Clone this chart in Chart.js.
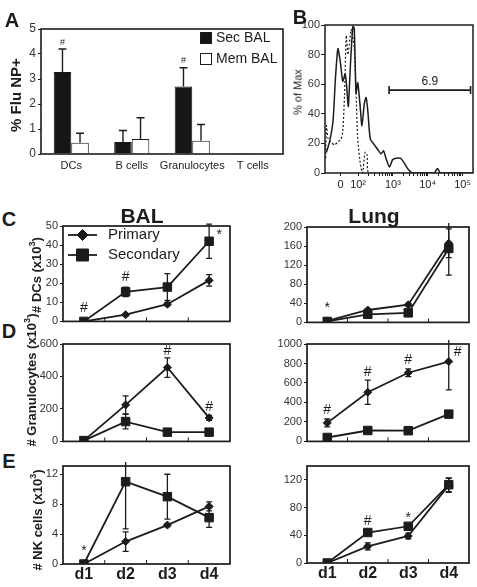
<!DOCTYPE html>
<html>
<head>
<meta charset="utf-8">
<script src="https://cdn.jsdelivr.net/npm/chart.js@4.4.1/dist/chart.umd.min.js"></script>
<style>
body{margin:0;background:#fff;font-family:"Liberation Sans",Arial,sans-serif;color:#1c1c1c}
#fig{position:relative;width:477px;height:587px;overflow:hidden;background:#fff}
#fig canvas{position:absolute}
.lbl{position:absolute;transform:translate(-50%,-50%);white-space:nowrap;line-height:1;z-index:2}
.rot{transform:translate(-50%,-50%) rotate(-90deg)}
.letter{font-size:20px;font-weight:bold}
.ttl{font-size:21px;font-weight:bold}
.ylab{font-size:13px;font-weight:bold}
sup{font-size:0.7em;line-height:0}
</style>
</head>
<body>
<div id="fig">
  <div class="lbl letter" style="left:12px;top:20px">A</div>
  <div class="lbl letter" style="left:300px;top:17px">B</div>
  <div class="lbl letter" style="left:9px;top:219px">C</div>
  <div class="lbl letter" style="left:9px;top:331px">D</div>
  <div class="lbl letter" style="left:9px;top:461px">E</div>
  <div class="lbl ttl" style="left:142px;top:215px">BAL</div>
  <div class="lbl ttl" style="left:374px;top:215px">Lung</div>
  <div class="lbl rot" style="left:15px;top:95px;font-size:15px;font-weight:bold">% Flu NP+</div>
  <div class="lbl rot" style="left:298px;top:92px;font-size:11px">% of Max</div>
  <div class="lbl rot ylab" style="left:36px;top:275px"># DCs (x10<sup>3</sup>)</div>
  <div class="lbl rot ylab" style="left:31px;top:380px"># Granulocytes (x10<sup>3</sup>)</div>
  <div class="lbl rot ylab" style="left:37px;top:520px"># NK cells (x10<sup>3</sup>)</div>
</div>
<script>
/* ---------- data ---------- */
// A: % Flu NP+ by cell type
const cellTypes = ['DCs', 'B cells', 'Granulocytes', 'T cells'];
const secBAL    = [3.28, 0.48, 2.70, 0.04];
const secBALErr = [0.92, 0.46, 0.75, 0];
const memBAL    = [0.45, 0.60, 0.53, 0.02];
const memBALErr = [0.38, 0.85, 0.65, 0];

// B: histogram (x in decades, biexponential axis)
const solidX = [1.09,1.18,1.28,1.35,1.42,1.49,1.56,1.63,1.67,1.72,1.78,1.85,1.89,1.94,1.99,2.06,2.11,2.18,2.23,2.28,2.35,2.47,2.56,2.66,2.73,2.80,2.90,2.99,3.09,3.21,3.32,3.42,3.56,4.18,4.28,4.37,5.30];
const solidY = [14,21,35,64,84,75,62,67,59,45,73,99,98,54,61,45,32,47,51,42,23,19,16,13,15,10,4,9,10,10,7,3,0,0,3,0,0];
const dashX  = [1.07,1.09,1.14,1.21,1.32,1.42,1.51,1.56,1.61,1.66,1.71,1.75,1.80,1.85,1.89,1.94,1.99,2.07,2.13,2.20,2.26,2.32,5.30];
const dashY  = [10,32,23,21,19,21,23,28,52,93,80,87,97,92,85,56,23,5,0,14,12,0,0];
const histTicks = [1.5, 2, 3, 4, 5];
const histTickLabels = ['0', '10²', '10³', '10⁴', '10⁵'];
const gateFrom = 2.89, gateTo = 5.23, gateLevel = 56, gateText = '6.9';

// C-E: time course
const days = ['d1', 'd2', 'd3', 'd4'];
const dcBalPrim = [0, 3.5, 9, 21.5],     dcBalPrimErr = [0, 0.6, 0.8, 3];
const dcBalSec  = [0, 15.5, 18, 42],     dcBalSecErr  = [0, 2.5, 7, 9];
const dcLungPrim = [3, 26, 37, 166],     dcLungPrimErr = [1, 3, 3, 30];
const dcLungSec  = [2, 17, 20, 155],     dcLungSecErr  = [1, 2, 3, 56];
const grBalPrim = [5, 225, 455, 145],    grBalPrimErr = [3, 55, 60, 15];
const grBalSec  = [5, 122, 57, 57],      grBalSecErr  = [2, 45, 5, 5];
const grLungPrim = [190, 505, 705, 820], grLungPrimErr = [40, 125, 40, 290];
const grLungSec  = [40, 112, 110, 280],  grLungSecErr  = [5, 10, 10, 30];
const nkBalPrim = [0, 3, 5.2, 7.7],      nkBalPrimErr = [0, 1.3, 0.2, 0.6];
const nkBalSec  = [0, 11, 9, 6.2],       nkBalSecErr  = [0, 6.3, 3, 1.3];
const nkLungPrim = [0, 24, 39, 112],     nkLungPrimErr = [0, 5, 4, 10];
const nkLungSec  = [0, 44, 53, 113],     nkLungSecErr  = [0, 2, 3, 10];

/* ---------- setup ---------- */
const FONT = '"Liberation Sans", Arial, sans-serif';
const INK = '#1c1c1c';
Chart.defaults.font.family = FONT;
Chart.defaults.color = '#333';
Chart.defaults.animation = false;

// box around the plot area, plus inward ticks on the day axis
const framePlugin = {
  id:'frame',
  afterDraw(chart, args, o){
    if(!o.on) return;
    const a = chart.chartArea, ctx = chart.ctx;
    ctx.save();
    ctx.strokeStyle = INK; ctx.lineWidth = o.width || 1.7;
    ctx.strokeRect(a.left, a.top, a.right-a.left, a.bottom-a.top);
    if(o.xticks){
      const x = chart.scales.x, n = chart.data.labels.length;
      ctx.lineWidth = 1;
      ctx.beginPath();
      for(let i=0;i<n-1;i++){
        const px = (x.getPixelForValue(i)+x.getPixelForValue(i+1))/2;
        ctx.moveTo(px, a.bottom); ctx.lineTo(px, a.bottom-4);
      }
      ctx.stroke();
    }
    ctx.restore();
  }
};

const errPlugin = {
  id:'errbars',
  afterDatasetsDraw(chart, args, o){
    const ctx = chart.ctx, y = chart.scales.y, top = chart.chartArea.top;
    chart.data.datasets.forEach((ds, di)=>{
      if(!ds.err) return;
      const meta = chart.getDatasetMeta(di);
      const cap = o.cap || 3;
      ctx.save(); ctx.strokeStyle = INK; ctx.lineWidth = o.width || 1.3;
      meta.data.forEach((el, i)=>{
        const e = ds.err[i]; if(!e) return;
        const v = ds.data[i];
        let hi = y.getPixelForValue(v+e);
        const lo = o.upOnly ? y.getPixelForValue(v) : y.getPixelForValue(v-e);
        const clipped = hi < top-4;
        if(clipped) hi = top-4;
        ctx.beginPath();
        ctx.moveTo(el.x, lo); ctx.lineTo(el.x, hi);
        if(!clipped){ ctx.moveTo(el.x-cap, hi); ctx.lineTo(el.x+cap, hi); }
        if(!o.upOnly){ ctx.moveTo(el.x-cap, lo); ctx.lineTo(el.x+cap, lo); }
        ctx.stroke();
      });
      ctx.restore();
    });
  }
};

// significance marks (# / *)
const notePlugin = {
  id:'notes',
  afterDatasetsDraw(chart, args, o){
    if(!o.items) return;
    const ctx = chart.ctx, y = chart.scales.y;
    ctx.save(); ctx.fillStyle = INK; ctx.font = o.font;
    ctx.textAlign = 'center'; ctx.textBaseline = 'middle';
    o.items.forEach(n=>{
      const el = chart.getDatasetMeta(n.ds||0).data[n.i];
      const dy = n.t==='*' ? 3 : 0;
      ctx.fillText(n.t, el.x+(n.dx||0), y.getPixelForValue(n.v)+dy);
    });
    ctx.restore();
  }
};

// in-plot legend
const keyPlugin = {
  id:'key',
  afterDraw(chart, args, o){
    if(!o.on) return;
    const ctx = chart.ctx, a = chart.chartArea;
    ctx.save(); ctx.font = o.font; ctx.textBaseline = 'middle';
    chart.data.datasets.forEach((ds, i)=>{
      const yy = a.top + o.y + i*o.gap, xx = a.left + o.x;
      ctx.strokeStyle = INK; ctx.fillStyle = ds.backgroundColor; ctx.lineWidth = 1;
      if(o.kind==='box'){
        ctx.fillRect(xx, yy-o.size/2, o.size, o.size);
        ctx.strokeRect(xx+0.5, yy-o.size/2+0.5, o.size-1, o.size-1);
      }else{
        ctx.lineWidth = 1.8;
        ctx.beginPath(); ctx.moveTo(xx, yy); ctx.lineTo(xx+o.len, yy); ctx.stroke();
        ctx.fillStyle = INK; ctx.lineWidth = 1;
        Chart.helpers.drawPoint(ctx, {pointStyle:ds.pointStyle, radius:ds.keyRadius, rotation:0, borderWidth:1}, xx+o.len/2, yy);
      }
      ctx.fillStyle = INK;
      ctx.fillText(ds.label, xx+o.tx, yy);
    });
    ctx.restore();
  }
};

// gate bracket on the histogram
const gatePlugin = {
  id:'gate',
  afterDraw(chart, args, o){
    if(!o.on) return;
    const ctx = chart.ctx, x = chart.scales.x, y = chart.scales.y;
    const x1 = x.getPixelForValue(gateFrom), x2 = x.getPixelForValue(gateTo), py = y.getPixelForValue(gateLevel);
    ctx.save(); ctx.strokeStyle = INK; ctx.lineWidth = 1.6;
    ctx.beginPath();
    ctx.moveTo(x1, py); ctx.lineTo(x2, py);
    ctx.moveTo(x1, py-4); ctx.lineTo(x1, py+4);
    ctx.moveTo(x2, py-4); ctx.lineTo(x2, py+4);
    ctx.stroke();
    ctx.fillStyle = INK; ctx.font = '12px '+FONT; ctx.textAlign = 'center'; ctx.textBaseline = 'bottom';
    ctx.fillText(gateText, (x1+x2)/2, py-2);
    ctx.restore();
  }
};
Chart.register(framePlugin, errPlugin, notePlugin, keyPlugin, gatePlugin);

function mount(id, box, m){
  const c = document.createElement('canvas');
  c.id = id;
  c.width = box.r-box.l+m.l+m.r;
  c.height = box.b-box.t+m.t+m.b;
  c.style.left = (box.l-m.l)+'px';
  c.style.top = (box.t-m.t)+'px';
  document.getElementById('fig').appendChild(c);
  return c;
}

// tick list 0, step, 2*step ... up to max
function stepTicks(max, step){
  const out = [];
  for(let v=0; v<=max+1e-9; v+=step) out.push({value:Math.round(v*1000)/1000});
  return out;
}

/* ---------- A ---------- */
(function(){
  const m = {l:41, t:14, r:4, b:20};
  const c = mount('chartA', {l:41, t:29, r:283, b:154}, m);
  new Chart(c, {
    type:'bar',
    data:{
      labels: cellTypes,
      datasets:[
        {label:'Sec BAL', data:secBAL, err:secBALErr, backgroundColor:'#161616', borderColor:'#161616', borderWidth:1},
        {label:'Mem BAL', data:memBAL, err:memBALErr, backgroundColor:'#ffffff', borderColor:INK, borderWidth:1}
      ]
    },
    options:{
      responsive:false,
      layout:{padding:{top:m.t, right:m.r, left:0, bottom:0}},
      datasets:{bar:{barPercentage:1, categoryPercentage:0.58}},
      plugins:{
        legend:{display:false}, tooltip:{enabled:false},
        frame:{on:true, width:1.6},
        errbars:{upOnly:true, cap:4, width:1.4},
        notes:{items:[{ds:0,i:0,v:4.45,t:'#'},{ds:0,i:2,v:3.75,t:'#'}], font:'9px '+FONT},
        key:{on:true, kind:'box', x:159, y:9, gap:21, size:12, tx:16, font:'14px '+FONT}
      },
      scales:{
        x:{grid:{display:false, drawTicks:false}, border:{display:false},
           ticks:{font:{size:11}, padding:5, color:'#222', maxRotation:0, minRotation:0, autoSkip:false},
           afterFit:s=>{s.height=m.b}},
        y:{min:0, max:5, afterBuildTicks:s=>{ s.ticks = stepTicks(5, 1); },
           ticks:{font:{size:12}, padding:2, color:'#333', callback:v=>String(v)},
           grid:{drawOnChartArea:false, tickLength:3, color:INK}, border:{display:false}, afterFit:s=>{s.width=m.l}}
      }
    }
  });
})();

/* ---------- B ---------- */
(function(){
  const m = {l:30, t:8, r:3, b:24};
  const c = mount('chartB', {l:325, t:25, r:473, b:173}, m);
  const minor = [];
  [2,3,4].forEach(d=>{ for(let k=2;k<10;k++) minor.push(d+Math.log10(k)); });
  new Chart(c, {
    type:'line',
    data:{
      datasets:[
        {label:'Secondary', data:solidX.map((x,i)=>({x, y:solidY[i]})), borderColor:INK, borderWidth:1.5, pointRadius:0, tension:0.2},
        {label:'Primary', data:dashX.map((x,i)=>({x, y:dashY[i]})), borderColor:INK, borderWidth:1.2, borderDash:[2,2], pointRadius:0, tension:0.2}
      ]
    },
    options:{
      responsive:false,
      layout:{padding:{top:m.t, right:m.r, left:0, bottom:0}},
      plugins:{legend:{display:false}, tooltip:{enabled:false}, frame:{on:true, width:1.5}, gate:{on:true}},
      scales:{
        x:{type:'linear', min:1.05, max:5.3,
           afterBuildTicks:s=>{ s.ticks = histTicks.concat(minor).sort((a,b)=>a-b).map(v=>({value:v})); },
           ticks:{autoSkip:false, maxRotation:0, font:{size:11}, padding:2, color:'#222',
                  callback:v=>{ const k = histTicks.indexOf(v); return k<0 ? '' : histTickLabels[k]; }},
           grid:{drawOnChartArea:false, tickLength:3, color:INK}, border:{display:false}, afterFit:s=>{s.height=m.b}},
        y:{min:0, max:100, afterBuildTicks:s=>{ s.ticks = stepTicks(100, 20); },
           ticks:{font:{size:11}, padding:1, color:'#333'},
           grid:{drawOnChartArea:false, tickLength:4, color:INK}, border:{display:false}, afterFit:s=>{s.width=m.l}}
      }
    }
  });
})();

/* ---------- C-E ---------- */
function dayChart(s){
  const c = mount(s.id, s.box, s.m);
  return new Chart(c, {
    type:'line',
    data:{
      labels: days,
      datasets:[
        {label:'Primary', data:s.prim, err:s.primErr, pointStyle:'rectRot', pointRadius:4, keyRadius:5.5,
         borderColor:INK, backgroundColor:INK, borderWidth:1.8, pointBorderWidth:1},
        {label:'Secondary', data:s.sec, err:s.secErr, pointStyle:'rect', pointRadius:6, keyRadius:8.5,
         borderColor:INK, backgroundColor:INK, borderWidth:1.8, pointBorderWidth:1}
      ]
    },
    options:{
      responsive:false,
      layout:{padding:{top:s.m.t, right:s.m.r, left:0, bottom:0}},
      plugins:{
        legend:{display:false}, tooltip:{enabled:false},
        frame:{on:true, width:1.7, xticks:true},
        errbars:{cap:3, width:1.3},
        notes:{items:s.notes, font:'14px '+FONT},
        key: s.key || {}
      },
      scales:{
        x:{offset:true, grid:{display:false, drawTicks:false}, border:{display:false},
           ticks:{display:!!s.showDays, font:{size:16, weight:'bold'}, color:'#1c1c1c', padding:1, maxRotation:0, autoSkip:false},
           afterFit:sc=>{sc.height=s.m.b}},
        y:{min:0, max:s.max,
           afterBuildTicks:sc=>{ sc.ticks = stepTicks(s.max, s.step); },
           ticks:{font:{size:11}, padding:2, color:'#333', autoSkip:false, callback:v=>String(v)},
           grid:{drawOnChartArea:false, tickLength:3, color:INK}, border:{display:false},
           afterFit:sc=>{sc.width=s.m.l}}
      }
    }
  });
}

const mL = {l:45, t:9, r:6, b:6}, mR = {l:45, t:9, r:3, b:6};
dayChart({id:'cBal', box:{l:63, t:226, r:231, b:324}, m:mL, max:50, step:10,
  prim:dcBalPrim, primErr:dcBalPrimErr, sec:dcBalSec, secErr:dcBalSecErr,
  notes:[{i:0,v:7,t:'#'},{i:1,v:23,t:'#'},{i:3,v:47,t:'*',dx:10}],
  key:{on:true, kind:'line', x:5, y:9, gap:20, len:29, tx:40, font:'15px '+FONT}});
dayChart({id:'cLung', box:{l:307, t:227, r:473, b:325}, m:mR, max:200, step:40,
  prim:dcLungPrim, primErr:dcLungPrimErr, sec:dcLungSec, secErr:dcLungSecErr,
  notes:[{i:0,v:36,t:'*'}]});
dayChart({id:'dBal', box:{l:63, t:344, r:231, b:444}, m:mL, max:600, step:200,
  prim:grBalPrim, primErr:grBalPrimErr, sec:grBalSec, secErr:grBalSecErr,
  notes:[{i:2,v:553,t:'#'},{i:3,v:212,t:'#'}]});
dayChart({id:'dLung', box:{l:307, t:344, r:473, b:444}, m:mR, max:1000, step:200,
  prim:grLungPrim, primErr:grLungPrimErr, sec:grLungSec, secErr:grLungSecErr,
  notes:[{i:0,v:319,t:'#'},{i:1,v:711,t:'#'},{i:2,v:830,t:'#'},{i:3,v:915,t:'#',dx:9}]});
dayChart({id:'eBal', box:{l:63, t:466, r:231, b:564}, m:{l:45, t:9, r:6, b:23}, max:13.1, step:4, showDays:true,
  prim:nkBalPrim, primErr:nkBalPrimErr, sec:nkBalSec, secErr:nkBalSecErr,
  notes:[{i:0,v:2.1,t:'*'}]});
dayChart({id:'eLung', box:{l:307, t:466, r:473, b:563}, m:{l:45, t:9, r:3, b:24}, max:140, step:40, showDays:true,
  prim:nkLungPrim, primErr:nkLungPrimErr, sec:nkLungSec, secErr:nkLungSecErr,
  notes:[{i:1,v:60,t:'#'},{i:2,v:69,t:'*'}]});
</script>
</body>
</html>
